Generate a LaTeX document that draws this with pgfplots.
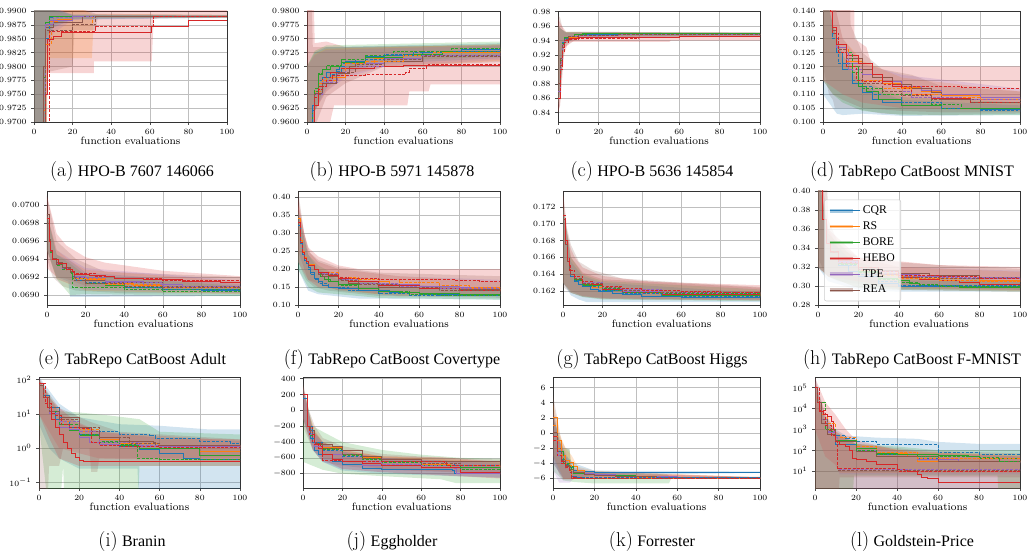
\documentclass[border=0pt]{standalone}
\usepackage{fontspec}
\newfontfamily\tnr{Liberation Serif}
\usepackage{pgfplots}
\pgfplotsset{compat=1.18}
\definecolor{cqr}{HTML}{1F77B4}
\definecolor{rs}{HTML}{FF7F0E}
\definecolor{bore}{HTML}{2CA02C}
\definecolor{hebo}{HTML}{D62728}
\definecolor{tpe}{HTML}{9467BD}
\definecolor{rea}{HTML}{8C564B}
\pgfplotsset{
 sub/.style={scale only axis, anchor=south west, xmin=0, xmax=100, xtick={0,20,40,60,80,100},
  grid=major, grid style={line width=0.4pt, black!25}, axis line style={line width=0.7pt, black!80},
  tick style={black!70, line width=0.4pt}, major tick length=2pt, tick align=outside,
  xtick pos=bottom, ytick pos=left, scaled y ticks=false, scaled x ticks=false,
  tick label style={font=\fontsize{6.3}{7}\selectfont},
  xlabel={function evaluations},
  xlabel style={font=\fontsize{8}{9}\selectfont, at={(axis description cs:0.5,0)}, anchor=center, yshift=-14pt}},
 yp/.style={yticklabel style={/pgf/number format/.cd, fixed, fixed zerofill, precision=#1}},
 S/.style={const plot, line width=0.6pt, color=#1},
 D/.style={const plot, line width=0.6pt, color=#1, dash pattern=on 2.2pt off 1.1pt},
 B/.style={fill=#1, fill opacity=0.2, draw=none},
}
\newcommand{\subcap}[2]{{\fontsize{15}{15}\selectfont #1}\ {\tnr\fontsize{12}{12}\selectfont #2}}
\begin{document}
\begin{tikzpicture}
\useasboundingbox (0,0) rectangle (770.25pt,-414pt);
%================ (a)
\begin{axis}[sub, at={(25.5pt,-91.5pt)}, width=144.75pt, height=83.25pt, ymin=0.97, ymax=0.99,
 ytick={0.97,0.9725,0.975,0.9775,0.98,0.9825,0.985,0.9875,0.99}, yp=4]
\addplot[B=hebo] coordinates {(0,0.991)(100,0.991)(100,0.9888)(66,0.9888)(62,0.9885)(61,0.9809)(31,0.9809)(31,0.9788)(7,0.9788)(6,0.95)(0,0.95)} -- cycle;
\addplot[B=rea] coordinates {(0,0.991)(20,0.991)(32,0.9895)(100,0.9893)(100,0.9888)(33,0.9888)(32,0.9865)(21,0.9865)(20,0.980)(7,0.979)(6,0.95)(0,0.95)} -- cycle;
\addplot[B=rs] coordinates {(0,0.991)(20,0.991)(30,0.9895)(100,0.9893)(100,0.9888)(31,0.9888)(30,0.9815)(7,0.9815)(6,0.95)(0,0.95)} -- cycle;
\addplot[B=cqr] coordinates {(0,0.991)(10,0.9905)(20,0.9893)(100,0.9892)(100,0.9888)(20,0.9885)(10,0.987)(6,0.984)(5,0.95)(0,0.95)} -- cycle;
\addplot[B=bore] coordinates {(0,0.991)(10,0.9902)(20,0.9893)(100,0.9892)(100,0.9888)(20,0.9886)(10,0.9875)(6,0.985)(5,0.95)(0,0.95)} -- cycle;
\addplot[B=tpe] coordinates {(0,0.991)(10,0.9905)(20,0.9894)(100,0.9892)(100,0.9888)(20,0.9884)(10,0.986)(6,0.982)(5,0.95)(0,0.95)} -- cycle;
\addplot[S=cqr] coordinates {(0,0.9)(4,0.95)(5,0.975)(6,0.9875)(8,0.9888)(10,0.989)(100,0.989)};
\addplot[S=rs] coordinates {(0,0.9)(4,0.95)(5,0.972)(6,0.985)(8,0.9882)(12,0.9885)(20,0.989)(100,0.989)};
\addplot[S=bore] coordinates {(0,0.9)(4,0.955)(5,0.978)(6,0.988)(8,0.989)(100,0.989)};
\addplot[S=tpe] coordinates {(0,0.9)(4,0.95)(5,0.975)(6,0.9875)(8,0.9883)(20,0.989)(100,0.989)};
\addplot[S=rea] coordinates {(0,0.9)(4,0.96)(5,0.98)(6,0.987)(10,0.988)(25,0.989)(100,0.989)};
\addplot[S=hebo] coordinates {(0,0.9)(5,0.95)(6,0.975)(7,0.9848)(10,0.9855)(14,0.9862)(61,0.9873)(80,0.9883)(100,0.9883)};
\addplot[D=cqr] coordinates {(0,0.9)(5,0.96)(6,0.985)(8,0.9888)(12,0.989)(100,0.989)};
\addplot[D=rs] coordinates {(0,0.9)(5,0.96)(6,0.984)(9,0.9865)(20,0.9875)(30,0.989)(100,0.989)};
\addplot[D=bore] coordinates {(0,0.9)(5,0.97)(6,0.988)(8,0.989)(100,0.989)};
\addplot[D=tpe] coordinates {(0,0.9)(5,0.97)(6,0.9875)(10,0.9888)(20,0.989)(100,0.989)};
\addplot[D=rea] coordinates {(0,0.9)(5,0.965)(6,0.9865)(20,0.9875)(32,0.989)(100,0.989)};
\addplot[D=hebo] coordinates {(0,0.9)(6,0.97)(8,0.9863)(32,0.9872)(62,0.989)(100,0.989)};
\end{axis}
%================ (b)
\begin{axis}[sub, at={(230.25pt,-91.5pt)}, width=144.75pt, height=83.25pt, ymin=0.96, ymax=0.98,
 ytick={0.96,0.9625,0.965,0.9675,0.97,0.9725,0.975,0.9775,0.98}, yp=4]
\addplot[B=rea] coordinates {(0,0.99)(2,0.99)(3,0.9735)(20,0.9735)(100,0.974)(100,0.9708)(40,0.970)(20,0.967)(10,0.9645)(5,0.960)(3,0.95)(0,0.95)} -- cycle;
\addplot[B=hebo] coordinates {(0,0.99)(3,0.99)(4,0.9742)(10,0.9745)(20,0.9735)(100,0.9738)(100,0.9668)(64,0.9668)(63,0.9655)(53,0.9655)(52,0.963)(14,0.963)(12,0.960)(8,0.958)(5,0.955)(0,0.95)} -- cycle;
\addplot[B=cqr] coordinates {(0,0.97)(4,0.9725)(10,0.9735)(100,0.9742)(100,0.9715)(40,0.9705)(20,0.969)(10,0.966)(4,0.962)(2,0.95)(0,0.95)} -- cycle;
\addplot[B=bore] coordinates {(0,0.97)(4,0.9728)(10,0.9738)(100,0.9745)(100,0.9718)(40,0.971)(20,0.9695)(10,0.967)(4,0.962)(2,0.95)(0,0.95)} -- cycle;
\addplot[B=rs] coordinates {(0,0.97)(4,0.9722)(10,0.9732)(100,0.974)(100,0.971)(40,0.970)(20,0.9685)(10,0.9655)(4,0.962)(2,0.95)(0,0.95)} -- cycle;
\addplot[B=tpe] coordinates {(0,0.97)(4,0.972)(10,0.973)(100,0.9738)(100,0.9712)(40,0.970)(20,0.968)(10,0.9655)(4,0.962)(2,0.95)(0,0.95)} -- cycle;
\addplot[S=cqr] coordinates {(0,0.95)(2,0.958)(3,0.963)(4,0.9655)(6,0.967)(8,0.968)(10,0.969)(15,0.9695)(17,0.970)(20,0.971)(30,0.9718)(40,0.972)(60,0.9725)(80,0.973)(100,0.9732)};
\addplot[S=rs] coordinates {(0,0.95)(3,0.962)(4,0.9655)(6,0.967)(10,0.968)(20,0.9705)(35,0.9715)(50,0.9722)(70,0.9726)(100,0.9728)};
\addplot[S=bore] coordinates {(0,0.95)(3,0.962)(4,0.9655)(6,0.9685)(8,0.9695)(12,0.970)(18,0.9708)(30,0.9717)(50,0.9722)(70,0.9728)(100,0.9733)};
\addplot[S=tpe] coordinates {(0,0.95)(4,0.965)(8,0.9675)(15,0.969)(20,0.9705)(40,0.9715)(60,0.972)(100,0.9727)};
\addplot[S=rea] coordinates {(0,0.95)(2,0.958)(4,0.965)(8,0.967)(15,0.9688)(22,0.970)(40,0.971)(60,0.972)(100,0.9722)};
\addplot[S=hebo] coordinates {(0,0.95)(3,0.960)(4,0.963)(6,0.9665)(8,0.968)(12,0.969)(18,0.9697)(35,0.970)(50,0.9702)(100,0.9705)};
\addplot[D=cqr] coordinates {(0,0.95)(3,0.962)(4,0.9655)(6,0.9675)(8,0.968)(12,0.9685)(16,0.9692)(18,0.9705)(25,0.9712)(40,0.9722)(55,0.9725)(70,0.9728)(100,0.973)};
\addplot[D=rs] coordinates {(0,0.95)(4,0.9655)(8,0.9675)(15,0.969)(20,0.9705)(30,0.971)(50,0.972)(65,0.9725)(100,0.9732)};
\addplot[D=bore] coordinates {(0,0.95)(4,0.966)(6,0.9688)(8,0.9695)(10,0.9702)(18,0.9712)(30,0.972)(45,0.9727)(60,0.9728)(75,0.9732)(100,0.9735)};
\addplot[D=tpe] coordinates {(0,0.95)(4,0.965)(8,0.9672)(16,0.969)(25,0.970)(40,0.9712)(60,0.972)(100,0.9725)};
\addplot[D=rea] coordinates {(0,0.95)(4,0.9652)(8,0.967)(15,0.969)(25,0.9703)(40,0.9713)(60,0.9718)(100,0.9723)};
\addplot[D=hebo] coordinates {(0,0.95)(4,0.9645)(6,0.9658)(8,0.9665)(10,0.9675)(13,0.9684)(30,0.9685)(51,0.969)(53,0.9697)(62,0.9703)(100,0.9703)};
\end{axis}
%================ (c)
\begin{axis}[sub, at={(418.5pt,-91.5pt)}, width=151.5pt, height=83.25pt, ymin=0.827, ymax=0.981,
 ytick={0.84,0.86,0.88,0.90,0.92,0.94,0.96,0.98}, yp=2]
\addplot[B=rea] coordinates {(0,0.975)(1,0.972)(2,0.96)(3,0.952)(100,0.9515)(100,0.946)(10,0.943)(3,0.938)(2,0.90)(1,0.85)(0,0.84)} -- cycle;
\addplot[B=hebo] coordinates {(0,0.97)(2,0.96)(4,0.952)(100,0.951)(100,0.940)(56,0.940)(55,0.938)(5,0.938)(3,0.92)(1,0.85)(0,0.84)} -- cycle;
\addplot[B=cqr] coordinates {(0,0.96)(2,0.955)(4,0.951)(100,0.9505)(100,0.947)(10,0.945)(3,0.935)(1,0.87)(0,0.85)} -- cycle;
\addplot[B=bore] coordinates {(0,0.96)(2,0.955)(4,0.952)(28,0.952)(100,0.9505)(100,0.947)(10,0.946)(3,0.935)(1,0.87)(0,0.85)} -- cycle;
\addplot[B=rs] coordinates {(0,0.96)(2,0.955)(4,0.951)(100,0.9505)(100,0.946)(10,0.944)(3,0.93)(1,0.87)(0,0.85)} -- cycle;
\addplot[B=tpe] coordinates {(0,0.96)(2,0.955)(4,0.951)(100,0.9505)(100,0.946)(10,0.944)(3,0.93)(1,0.87)(0,0.85)} -- cycle;
\addplot[S=cqr] coordinates {(0,0.88)(1,0.915)(2,0.937)(3,0.943)(5,0.946)(10,0.948)(30,0.949)(100,0.9495)};
\addplot[S=rs] coordinates {(0,0.87)(1,0.91)(2,0.935)(3,0.942)(5,0.945)(10,0.947)(30,0.9485)(100,0.949)};
\addplot[S=bore] coordinates {(0,0.87)(1,0.912)(2,0.936)(3,0.944)(5,0.946)(8,0.948)(12,0.9497)(17,0.9505)(28,0.9495)(100,0.9495)};
\addplot[S=tpe] coordinates {(0,0.87)(1,0.91)(2,0.935)(3,0.942)(5,0.9455)(10,0.947)(30,0.9485)(100,0.949)};
\addplot[S=rea] coordinates {(0,0.88)(1,0.915)(2,0.935)(3,0.943)(5,0.946)(10,0.9475)(30,0.949)(100,0.9492)};
\addplot[S=hebo] coordinates {(0,0.86)(1,0.905)(2,0.93)(3,0.94)(5,0.943)(10,0.9445)(60,0.9455)(100,0.946)};
\addplot[D=cqr] coordinates {(0,0.87)(1,0.912)(2,0.936)(3,0.943)(5,0.946)(10,0.9478)(30,0.9488)(100,0.9492)};
\addplot[D=rs] coordinates {(0,0.87)(1,0.91)(2,0.934)(3,0.941)(5,0.945)(10,0.947)(30,0.9485)(100,0.9488)};
\addplot[D=bore] coordinates {(0,0.87)(1,0.912)(2,0.936)(3,0.944)(5,0.946)(8,0.948)(14,0.9495)(30,0.9495)(100,0.9495)};
\addplot[D=tpe] coordinates {(0,0.87)(1,0.91)(2,0.935)(3,0.942)(5,0.9452)(10,0.9468)(30,0.9482)(100,0.9488)};
\addplot[D=rea] coordinates {(0,0.88)(1,0.913)(2,0.934)(3,0.942)(5,0.9455)(10,0.9472)(30,0.9487)(100,0.949)};
\addplot[D=hebo] coordinates {(0,0.86)(1,0.90)(2,0.925)(3,0.938)(5,0.942)(10,0.9435)(40,0.9445)(60,0.9458)(100,0.9462)};
\end{axis}
%================ (d)
\begin{axis}[sub, at={(617.25pt,-91.5pt)}, width=147.75pt, height=83.25pt, ymin=0.1, ymax=0.14,
 ytick={0.1,0.105,0.11,0.115,0.12,0.125,0.13,0.135,0.14}, yp=3]
\addplot[B=hebo] coordinates {(0,0.2)(15,0.2)(16,0.13)(22,0.127)(25,0.12)(100,0.12)(100,0.1035)(60,0.1035)(40,0.104)(20,0.105)(10,0.108)(5,0.11)(0,0.115)} -- cycle;
\addplot[B=rea] coordinates {(0,0.2)(12,0.2)(14,0.135)(20,0.125)(30,0.119)(45,0.117)(60,0.113)(100,0.111)(100,0.103)(60,0.1025)(30,0.103)(15,0.105)(6,0.105)(5,0.108)(3,0.11)(0,0.12)} -- cycle;
\addplot[B=cqr] coordinates {(0,0.15)(5,0.135)(10,0.122)(20,0.113)(40,0.108)(100,0.106)(100,0.1025)(40,0.1022)(20,0.103)(10,0.1025)(7,0.103)(5,0.105)(0,0.11)} -- cycle;
\addplot[B=bore] coordinates {(0,0.15)(5,0.135)(10,0.124)(20,0.115)(40,0.109)(100,0.107)(100,0.1025)(40,0.1025)(20,0.104)(10,0.107)(5,0.11)(0,0.115)} -- cycle;
\addplot[B=rs] coordinates {(0,0.16)(10,0.13)(20,0.122)(40,0.116)(100,0.111)(100,0.104)(40,0.105)(20,0.107)(10,0.11)(0,0.115)} -- cycle;
\addplot[B=tpe] coordinates {(0,0.16)(10,0.13)(20,0.121)(40,0.117)(100,0.112)(100,0.104)(40,0.105)(20,0.107)(10,0.11)(0,0.115)} -- cycle;
\addplot[S=cqr] coordinates {(0,0.19)(2,0.16)(4,0.14)(5,0.132)(7,0.125)(10,0.119)(15,0.114)(20,0.1105)(25,0.108)(30,0.107)(40,0.106)(60,0.105)(80,0.1047)(100,0.1045)};
\addplot[S=rs] coordinates {(0,0.19)(2,0.16)(4,0.14)(5,0.133)(7,0.128)(12,0.122)(20,0.117)(30,0.114)(40,0.1125)(50,0.111)(60,0.1095)(80,0.108)(100,0.1075)};
\addplot[S=bore] coordinates {(0,0.19)(2,0.16)(4,0.14)(5,0.133)(7,0.127)(12,0.12)(18,0.113)(22,0.111)(28,0.108)(40,0.106)(60,0.105)(100,0.1045)};
\addplot[S=tpe] coordinates {(0,0.19)(2,0.16)(4,0.14)(5,0.133)(7,0.127)(12,0.121)(20,0.117)(30,0.1145)(40,0.113)(50,0.1115)(60,0.110)(80,0.109)(100,0.1083)};
\addplot[S=rea] coordinates {(0,0.19)(2,0.16)(4,0.14)(5,0.133)(7,0.128)(12,0.123)(20,0.119)(25,0.116)(35,0.1135)(45,0.112)(55,0.1105)(60,0.108)(80,0.107)(100,0.1065)};
\addplot[S=hebo] coordinates {(0,0.19)(2,0.16)(4,0.14)(5,0.134)(7,0.128)(12,0.124)(18,0.121)(25,0.117)(30,0.1145)(35,0.113)(40,0.112)(45,0.110)(55,0.1085)(75,0.107)(100,0.106)};
\addplot[D=cqr] coordinates {(0,0.19)(2,0.16)(4,0.14)(5,0.13)(8,0.121)(15,0.115)(20,0.113)(25,0.110)(40,0.107)(60,0.105)(80,0.104)(100,0.1038)};
\addplot[D=rs] coordinates {(0,0.19)(2,0.16)(4,0.14)(5,0.132)(8,0.126)(13,0.12)(20,0.115)(30,0.112)(45,0.110)(60,0.109)(80,0.108)(100,0.107)};
\addplot[D=bore] coordinates {(0,0.19)(2,0.16)(4,0.14)(5,0.132)(8,0.125)(15,0.118)(20,0.112)(30,0.110)(45,0.109)(55,0.1065)(70,0.105)(100,0.1042)};
\addplot[D=tpe] coordinates {(0,0.19)(2,0.16)(4,0.14)(5,0.132)(8,0.125)(13,0.119)(20,0.114)(30,0.111)(45,0.109)(70,0.108)(100,0.107)};
\addplot[D=rea] coordinates {(0,0.19)(2,0.16)(4,0.14)(5,0.132)(8,0.126)(12,0.12)(20,0.114)(30,0.111)(40,0.1095)(55,0.108)(75,0.107)(100,0.1065)};
\addplot[D=hebo] coordinates {(0,0.19)(2,0.16)(4,0.14)(5,0.132)(8,0.125)(12,0.12)(17,0.115)(20,0.1145)(30,0.1135)(40,0.113)(70,0.1125)(85,0.112)(100,0.112)};
\end{axis}
%================ (e)
\begin{axis}[sub, at={(35.25pt,-228.75pt)}, width=144.75pt, height=85.5pt, ymin=0.06889, ymax=0.070155,
 ytick={0.069,0.0692,0.0694,0.0696,0.0698,0.07}, yp=4]
\addplot[B=hebo] coordinates {(0,0.0701)(5,0.06968)(10,0.06955)(20,0.06942)(30,0.06936)(60,0.06927)(100,0.06921)(100,0.06905)(50,0.06907)(20,0.0691)(10,0.06918)(5,0.0692)(0,0.0693)} -- cycle;
\addplot[B=rea] coordinates {(0,0.0701)(5,0.0696)(10,0.0695)(15,0.0694)(30,0.06926)(100,0.0692)(100,0.06902)(40,0.06902)(15,0.06905)(8,0.0691)(3,0.0692)(0,0.0694)} -- cycle;
\addplot[B=cqr] coordinates {(0,0.0699)(5,0.06945)(12,0.06938)(20,0.06925)(100,0.06912)(100,0.06899)(20,0.06898)(12,0.06898)(11,0.06915)(5,0.0692)(0,0.0695)} -- cycle;
\addplot[B=bore] coordinates {(0,0.0699)(5,0.06945)(12,0.06935)(20,0.06922)(100,0.0691)(100,0.06899)(20,0.06901)(12,0.069)(5,0.06918)(0,0.0695)} -- cycle;
\addplot[B=rs] coordinates {(0,0.0699)(5,0.0695)(12,0.06938)(20,0.06928)(100,0.06915)(100,0.06901)(20,0.06905)(5,0.06918)(0,0.0695)} -- cycle;
\addplot[B=tpe] coordinates {(0,0.0699)(5,0.0695)(12,0.0694)(20,0.0693)(100,0.06916)(100,0.06902)(20,0.06906)(5,0.06918)(0,0.0695)} -- cycle;
\addplot[S=cqr] coordinates {(0,0.0698)(1,0.0696)(2,0.06948)(3,0.0694)(5,0.06935)(8,0.0693)(12,0.06925)(13,0.06921)(15,0.06916)(20,0.06913)(30,0.06911)(40,0.06909)(60,0.06906)(80,0.06905)(100,0.06904)};
\addplot[S=rs] coordinates {(0,0.0699)(1,0.0696)(2,0.0695)(3,0.0694)(5,0.06935)(8,0.0693)(12,0.06926)(14,0.06921)(20,0.06917)(30,0.06913)(45,0.06911)(60,0.06909)(80,0.06908)(100,0.06907)};
\addplot[S=bore] coordinates {(0,0.0698)(1,0.0696)(2,0.06948)(3,0.0694)(5,0.06934)(8,0.0693)(12,0.06925)(13,0.06918)(20,0.06913)(30,0.06911)(40,0.06909)(60,0.06906)(100,0.06904)};
\addplot[S=tpe] coordinates {(0,0.0699)(1,0.0696)(2,0.0695)(3,0.0694)(5,0.06935)(8,0.0693)(12,0.06926)(14,0.06921)(20,0.06918)(30,0.06915)(50,0.06912)(70,0.0691)(100,0.06909)};
\addplot[S=rea] coordinates {(0,0.0699)(1,0.06962)(2,0.0695)(3,0.06941)(5,0.06936)(8,0.06931)(12,0.06926)(14,0.0692)(20,0.06916)(30,0.06914)(60,0.0691)(100,0.06909)};
\addplot[S=hebo] coordinates {(0,0.06985)(1,0.0696)(2,0.0695)(3,0.0694)(6,0.06935)(10,0.06928)(13,0.06925)(14,0.06923)(22,0.06922)(30,0.06921)(35,0.06918)(50,0.06917)(70,0.06915)(90,0.06914)(100,0.06913)};
\addplot[D=cqr] coordinates {(0,0.0698)(1,0.0696)(2,0.06948)(3,0.0694)(5,0.06934)(8,0.0693)(12,0.06925)(13,0.06918)(20,0.06914)(40,0.06908)(60,0.06906)(100,0.06904)};
\addplot[D=rs] coordinates {(0,0.0698)(1,0.0696)(2,0.06948)(3,0.0694)(5,0.06934)(8,0.0693)(12,0.06925)(14,0.06919)(30,0.06912)(60,0.06909)(100,0.06907)};
\addplot[D=bore] coordinates {(0,0.0698)(1,0.0696)(2,0.06947)(3,0.0694)(5,0.06933)(8,0.06928)(12,0.06924)(13,0.06909)(20,0.06908)(40,0.06906)(60,0.06904)(100,0.06903)};
\addplot[D=tpe] coordinates {(0,0.0698)(1,0.0696)(2,0.06948)(3,0.0694)(5,0.06934)(8,0.0693)(12,0.06925)(14,0.0692)(30,0.06914)(60,0.0691)(100,0.06908)};
\addplot[D=rea] coordinates {(0,0.0698)(1,0.0696)(2,0.06948)(3,0.0694)(5,0.06934)(8,0.0693)(12,0.06925)(14,0.06916)(20,0.06913)(40,0.0691)(60,0.06908)(100,0.06906)};
\addplot[D=hebo] coordinates {(0,0.06985)(1,0.0696)(2,0.0695)(3,0.0694)(6,0.06935)(10,0.06928)(13,0.06926)(14,0.06924)(25,0.06921)(35,0.06919)(60,0.06916)(100,0.06912)};
\end{axis}
%================ (f)
\begin{axis}[sub, at={(223.5pt,-228.75pt)}, width=151.5pt, height=85.5pt, ymin=0.1, ymax=0.417,
 ytick={0.1,0.15,0.2,0.25,0.3,0.35,0.4}, yp=2]
\addplot[B=hebo] coordinates {(0,0.40)(3,0.3)(5,0.26)(10,0.235)(20,0.21)(30,0.2)(100,0.2)(100,0.125)(50,0.125)(20,0.14)(10,0.16)(5,0.17)(0,0.25)} -- cycle;
\addplot[B=rea] coordinates {(0,0.42)(3,0.3)(6,0.245)(10,0.225)(20,0.205)(40,0.19)(100,0.18)(100,0.12)(40,0.125)(15,0.14)(8,0.15)(4,0.17)(0,0.22)} -- cycle;
\addplot[B=cqr] coordinates {(0,0.36)(5,0.24)(10,0.2)(20,0.17)(100,0.14)(100,0.115)(30,0.118)(10,0.13)(5,0.14)(0,0.2)} -- cycle;
\addplot[B=bore] coordinates {(0,0.36)(5,0.24)(10,0.21)(20,0.18)(50,0.15)(100,0.14)(100,0.115)(40,0.12)(10,0.135)(5,0.15)(0,0.2)} -- cycle;
\addplot[B=rs] coordinates {(0,0.38)(5,0.25)(10,0.22)(20,0.2)(50,0.18)(100,0.165)(100,0.125)(40,0.13)(10,0.15)(5,0.17)(0,0.22)} -- cycle;
\addplot[B=tpe] coordinates {(0,0.38)(5,0.25)(10,0.22)(20,0.2)(50,0.18)(100,0.17)(100,0.128)(40,0.132)(10,0.15)(5,0.17)(0,0.22)} -- cycle;
\addplot[S=cqr] coordinates {(0,0.32)(1,0.27)(2,0.24)(3,0.225)(4,0.215)(5,0.205)(6,0.19)(8,0.175)(10,0.165)(12,0.155)(15,0.15)(20,0.145)(30,0.14)(45,0.135)(60,0.13)(80,0.128)(100,0.127)};
\addplot[S=rs] coordinates {(0,0.34)(1,0.28)(2,0.25)(3,0.232)(4,0.222)(5,0.212)(8,0.2)(10,0.192)(15,0.182)(20,0.175)(30,0.165)(45,0.157)(60,0.152)(80,0.147)(100,0.143)};
\addplot[S=bore] coordinates {(0,0.33)(1,0.275)(2,0.245)(3,0.23)(4,0.22)(5,0.21)(8,0.2)(10,0.19)(11,0.18)(13,0.172)(16,0.165)(20,0.157)(30,0.146)(40,0.139)(50,0.134)(60,0.131)(80,0.129)(100,0.128)};
\addplot[S=tpe] coordinates {(0,0.33)(1,0.275)(2,0.245)(3,0.23)(4,0.22)(5,0.21)(8,0.2)(10,0.19)(12,0.185)(20,0.172)(25,0.165)(40,0.157)(60,0.151)(80,0.149)(100,0.148)};
\addplot[S=rea] coordinates {(0,0.33)(1,0.275)(2,0.245)(3,0.23)(4,0.22)(5,0.21)(8,0.198)(10,0.188)(12,0.18)(20,0.17)(25,0.16)(40,0.15)(60,0.145)(80,0.142)(100,0.14)};
\addplot[S=hebo] coordinates {(0,0.33)(1,0.275)(2,0.245)(3,0.23)(4,0.22)(5,0.21)(8,0.2)(10,0.192)(15,0.182)(20,0.175)(25,0.165)(40,0.155)(60,0.146)(80,0.14)(100,0.136)};
\addplot[D=cqr] coordinates {(0,0.32)(1,0.27)(2,0.24)(3,0.225)(4,0.215)(5,0.2)(6,0.185)(8,0.172)(10,0.16)(15,0.15)(25,0.14)(40,0.133)(55,0.128)(70,0.126)(100,0.125)};
\addplot[D=rs] coordinates {(0,0.33)(1,0.275)(2,0.245)(3,0.23)(4,0.22)(5,0.21)(8,0.2)(10,0.19)(20,0.178)(30,0.17)(50,0.162)(70,0.155)(85,0.15)(100,0.14)};
\addplot[D=bore] coordinates {(0,0.33)(1,0.275)(2,0.245)(3,0.23)(4,0.22)(5,0.21)(8,0.198)(10,0.185)(15,0.165)(20,0.155)(30,0.145)(40,0.137)(55,0.13)(70,0.127)(100,0.124)};
\addplot[D=tpe] coordinates {(0,0.33)(1,0.275)(2,0.245)(3,0.23)(4,0.22)(5,0.21)(8,0.2)(10,0.188)(20,0.17)(30,0.16)(50,0.152)(70,0.146)(100,0.142)};
\addplot[D=rea] coordinates {(0,0.33)(1,0.275)(2,0.245)(3,0.23)(4,0.22)(5,0.21)(8,0.198)(10,0.186)(20,0.168)(30,0.158)(50,0.148)(70,0.14)(100,0.136)};
\addplot[D=hebo] coordinates {(0,0.33)(1,0.275)(2,0.245)(3,0.23)(4,0.22)(5,0.21)(8,0.2)(10,0.19)(15,0.183)(20,0.178)(25,0.175)(40,0.17)(60,0.17)(78,0.168)(90,0.166)(100,0.165)};
\end{axis}
%================ (g)
\begin{axis}[sub, at={(422.25pt,-228.75pt)}, width=147.75pt, height=85.5pt, ymin=0.16035, ymax=0.17388,
 ytick={0.162,0.164,0.166,0.168,0.17,0.172}, yp=3]
\addplot[B=hebo] coordinates {(0,0.1735)(2,0.169)(4,0.167)(6,0.166)(10,0.1648)(20,0.1638)(40,0.1632)(60,0.163)(100,0.1627)(100,0.161)(40,0.1611)(20,0.1612)(10,0.1614)(4,0.162)(0,0.163)} -- cycle;
\addplot[B=rea] coordinates {(0,0.174)(2,0.1695)(4,0.1675)(8,0.1655)(15,0.1645)(30,0.1635)(60,0.163)(100,0.1625)(100,0.1609)(40,0.161)(20,0.1611)(10,0.1613)(4,0.1618)(0,0.1625)} -- cycle;
\addplot[B=cqr] coordinates {(0,0.172)(4,0.1655)(10,0.1638)(20,0.163)(100,0.1618)(100,0.1607)(20,0.1607)(12,0.1607)(8,0.161)(4,0.1615)(0,0.163)} -- cycle;
\addplot[B=bore] coordinates {(0,0.172)(4,0.166)(10,0.164)(20,0.1632)(100,0.1622)(100,0.1608)(20,0.161)(10,0.1613)(4,0.1618)(0,0.163)} -- cycle;
\addplot[B=rs] coordinates {(0,0.172)(4,0.166)(10,0.1642)(20,0.1634)(100,0.1624)(100,0.1609)(20,0.1611)(10,0.1614)(4,0.1618)(0,0.163)} -- cycle;
\addplot[B=tpe] coordinates {(0,0.172)(4,0.166)(10,0.1642)(20,0.1634)(100,0.1624)(100,0.1609)(20,0.1611)(10,0.1614)(4,0.1618)(0,0.163)} -- cycle;
\addplot[S=cqr] coordinates {(0,0.1705)(1,0.1675)(2,0.1655)(3,0.1645)(4,0.1638)(6,0.1632)(8,0.1628)(10,0.1625)(14,0.1622)(18,0.162)(25,0.1617)(30,0.1616)(40,0.1614)(60,0.1613)(100,0.1612)};
\addplot[S=rs] coordinates {(0,0.1705)(1,0.1675)(2,0.1655)(3,0.1645)(4,0.164)(6,0.1634)(10,0.1628)(15,0.1624)(20,0.1622)(30,0.1619)(45,0.1617)(60,0.1616)(100,0.1614)};
\addplot[S=bore] coordinates {(0,0.1705)(1,0.1675)(2,0.1655)(3,0.1645)(4,0.164)(6,0.1633)(10,0.1627)(20,0.1621)(30,0.1618)(50,0.1615)(100,0.1613)};
\addplot[S=tpe] coordinates {(0,0.1705)(1,0.1675)(2,0.1655)(3,0.1645)(4,0.164)(6,0.1634)(10,0.1628)(20,0.1623)(30,0.162)(50,0.1617)(100,0.1615)};
\addplot[S=rea] coordinates {(0,0.1705)(1,0.1675)(2,0.1655)(3,0.1645)(4,0.164)(6,0.1634)(10,0.1628)(20,0.1622)(30,0.1619)(50,0.1616)(100,0.1614)};
\addplot[S=hebo] coordinates {(0,0.1705)(1,0.1675)(2,0.1655)(3,0.1645)(4,0.164)(6,0.1634)(10,0.1628)(20,0.1622)(30,0.1619)(50,0.1616)(100,0.1613)};
\addplot[D=cqr] coordinates {(0,0.1705)(1,0.1675)(2,0.1655)(3,0.1645)(4,0.164)(6,0.1633)(10,0.1626)(18,0.1621)(30,0.1617)(50,0.1614)(100,0.1613)};
\addplot[D=rs] coordinates {(0,0.1705)(1,0.1675)(2,0.1655)(3,0.1645)(4,0.164)(6,0.1635)(10,0.1629)(20,0.1624)(30,0.1621)(50,0.1618)(100,0.1616)};
\addplot[D=bore] coordinates {(0,0.1705)(1,0.1675)(2,0.1655)(3,0.1645)(4,0.164)(6,0.1634)(10,0.1628)(20,0.1623)(30,0.1619)(50,0.1617)(100,0.1615)};
\addplot[D=tpe] coordinates {(0,0.1705)(1,0.1675)(2,0.1655)(3,0.1645)(4,0.164)(6,0.1635)(10,0.163)(20,0.1625)(30,0.1622)(50,0.1619)(100,0.1617)};
\addplot[D=rea] coordinates {(0,0.1705)(1,0.1675)(2,0.1655)(3,0.1645)(4,0.164)(6,0.1635)(10,0.1629)(20,0.1624)(30,0.1621)(50,0.1618)(100,0.1616)};
\addplot[D=hebo] coordinates {(0,0.171)(1,0.168)(2,0.166)(3,0.165)(4,0.1645)(6,0.1638)(10,0.1632)(15,0.1628)(20,0.1625)(30,0.1623)(40,0.1621)(60,0.162)(80,0.1619)(100,0.1619)};
\end{axis}
%================ (h)
\begin{axis}[sub, at={(613.5pt,-228.75pt)}, width=151.5pt, height=85.5pt, ymin=0.28, ymax=0.40,
 ytick={0.28,0.3,0.32,0.34,0.36,0.38,0.4}, yp=2,
 legend style={at={(0.03,0.925)}, anchor=north west, font=\tnr\fontsize{8.8}{10}\selectfont, fill=white, fill opacity=0.8, text opacity=1, draw opacity=1, draw=black!20, rounded corners=1.5pt, row sep=0.6pt, inner sep=2.5pt},
 legend cell align=left,
 legend image code/.code={\draw[line width=2.8pt, opacity=0.4, #1] (0cm,0cm) -- (0.62cm,0cm); \draw[line width=0.7pt, #1] (0cm,0cm) -- (0.62cm,0cm); \path (0.62cm,0cm) -- (0.8cm,0cm);}]
\addlegendimage{cqr}\addlegendentry{CQR}
\addlegendimage{rs}\addlegendentry{RS}
\addlegendimage{bore}\addlegendentry{BORE}
\addlegendimage{hebo}\addlegendentry{HEBO}
\addlegendimage{tpe}\addlegendentry{TPE}
\addlegendimage{rea}\addlegendentry{REA}
\addplot[B=hebo] coordinates {(0,0.45)(5,0.36)(10,0.34)(20,0.33)(40,0.326)(60,0.322)(100,0.32)(100,0.294)(40,0.296)(20,0.298)(5,0.31)(0,0.32)} -- cycle;
\addplot[B=rea] coordinates {(0,0.45)(4,0.45)(5,0.37)(10,0.345)(20,0.33)(40,0.325)(60,0.322)(100,0.318)(100,0.296)(40,0.297)(10,0.305)(5,0.31)(3,0.315)(0,0.33)} -- cycle;
\addplot[B=cqr] coordinates {(0,0.42)(5,0.35)(20,0.32)(40,0.306)(100,0.305)(100,0.294)(40,0.294)(20,0.296)(5,0.305)(0,0.32)} -- cycle;
\addplot[B=bore] coordinates {(0,0.42)(5,0.355)(20,0.325)(40,0.312)(100,0.305)(100,0.294)(40,0.296)(20,0.298)(5,0.31)(0,0.32)} -- cycle;
\addplot[B=rs] coordinates {(0,0.42)(5,0.36)(20,0.33)(40,0.32)(100,0.315)(100,0.295)(40,0.298)(5,0.31)(0,0.32)} -- cycle;
\addplot[B=tpe] coordinates {(0,0.42)(5,0.36)(20,0.33)(40,0.32)(100,0.316)(100,0.296)(40,0.299)(5,0.31)(0,0.32)} -- cycle;
\addplot[S=cqr] coordinates {(0,0.41)(2,0.37)(4,0.345)(6,0.335)(10,0.322)(15,0.315)(20,0.31)(30,0.303)(40,0.2992)(100,0.2992)};
\addplot[S=rs] coordinates {(0,0.41)(2,0.37)(4,0.345)(6,0.335)(10,0.325)(20,0.318)(30,0.313)(40,0.31)(60,0.308)(80,0.306)(100,0.304)};
\addplot[S=bore] coordinates {(0,0.41)(2,0.37)(4,0.345)(6,0.335)(10,0.324)(20,0.315)(30,0.308)(40,0.3055)(45,0.303)(50,0.301)(70,0.299)(100,0.2985)};
\addplot[S=tpe] coordinates {(0,0.41)(2,0.37)(4,0.345)(6,0.335)(10,0.326)(20,0.32)(30,0.315)(40,0.312)(50,0.31)(70,0.308)(100,0.307)};
\addplot[S=rea] coordinates {(0,0.41)(2,0.37)(4,0.345)(6,0.336)(10,0.327)(20,0.32)(30,0.316)(40,0.3135)(55,0.311)(80,0.309)(100,0.3075)};
\addplot[S=hebo] coordinates {(0,0.41)(2,0.37)(4,0.345)(6,0.335)(10,0.325)(20,0.317)(30,0.312)(40,0.309)(50,0.307)(60,0.306)(70,0.304)(80,0.302)(100,0.301)};
\addplot[D=cqr] coordinates {(0,0.41)(2,0.37)(4,0.345)(6,0.335)(10,0.322)(20,0.312)(30,0.305)(40,0.3005)(100,0.3005)};
\addplot[D=rs] coordinates {(0,0.41)(2,0.37)(4,0.345)(6,0.335)(10,0.324)(20,0.316)(30,0.311)(40,0.308)(60,0.306)(80,0.305)(100,0.3035)};
\addplot[D=bore] coordinates {(0,0.41)(2,0.37)(4,0.345)(6,0.335)(10,0.323)(20,0.314)(30,0.307)(40,0.3035)(50,0.302)(60,0.3)(100,0.2995)};
\addplot[D=tpe] coordinates {(0,0.41)(2,0.37)(4,0.345)(6,0.335)(10,0.325)(20,0.318)(30,0.313)(40,0.3105)(60,0.309)(100,0.3055)};
\addplot[D=rea] coordinates {(0,0.41)(2,0.37)(4,0.345)(6,0.335)(10,0.324)(20,0.317)(30,0.312)(40,0.3095)(60,0.308)(100,0.306)};
\addplot[D=hebo] coordinates {(0,0.41)(2,0.37)(4,0.345)(6,0.336)(10,0.327)(20,0.32)(30,0.315)(40,0.3115)(60,0.3105)(80,0.3085)(100,0.3065)};
\end{axis}
%================ (i)
\begin{axis}[sub, ymode=log, yminorticks=false, at={(29.25pt,-366pt)}, width=150.75pt, height=83.25pt, ymin=0.068, ymax=120,
 ytick={0.1,1,10,100}]
\addplot[B=cqr] coordinates {(0,120)(10,20)(20,8)(40,5)(60,4.5)(85,3.5)(100,3.5)(100,0.01)(50,0.01)(49,0.25)(20,0.25)(10,0.5)(5,1)(0,5)} -- cycle;
\addplot[B=bore] coordinates {(0,100)(10,12)(20,11)(35,9)(50,7)(60,3)(100,2.5)(100,0.3)(50,0.3)(49,0.01)(13,0.01)(12,0.3)(10,0.01)(5,0.01)(0,5)} -- cycle;
\addplot[B=rea] coordinates {(0,100)(10,15)(25,6)(40,3)(100,1.8)(100,0.5)(30,0.5)(29,0.2)(26,0.2)(25,1.0)(12,1.0)(10,0.3)(5,0.3)(4,0.01)(0,0.01)} -- cycle;
\addplot[B=hebo] coordinates {(0,120)(5,30)(10,15)(20,5)(30,3)(60,2)(100,1.8)(100,0.3)(20,0.3)(10,0.5)(5,2)(0,10)} -- cycle;
\addplot[B=rs] coordinates {(0,100)(10,10)(30,3)(100,1.6)(100,0.4)(30,0.5)(10,1)(0,10)} -- cycle;
\addplot[B=tpe] coordinates {(0,100)(10,10)(30,3)(100,1.6)(100,0.4)(30,0.5)(10,1)(0,10)} -- cycle;
\addplot[S=cqr] coordinates {(0,70)(2,30)(5,12)(8,7)(10,5)(15,3.5)(20,2.5)(30,1.5)(40,1.1)(50,0.9)(60,0.7)(72,0.5)(80,0.48)(100,0.45)};
\addplot[S=rs] coordinates {(0,70)(2,30)(5,12)(10,6)(15,4)(20,3)(30,1.8)(40,1.4)(60,1.1)(80,0.8)(100,0.75)};
\addplot[S=bore] coordinates {(0,70)(2,30)(5,12)(10,5)(15,3.2)(20,2.3)(30,1.5)(40,1.2)(50,1.0)(70,0.95)(80,0.6)(100,0.58)};
\addplot[S=tpe] coordinates {(0,70)(2,30)(5,10)(10,4)(15,3.5)(20,2)(25,1.5)(30,1.3)(50,1.1)(100,0.9)};
\addplot[S=rea] coordinates {(0,70)(2,35)(5,15)(10,8)(20,4)(26,3)(30,2)(40,1.6)(57,1.5)(58,1.2)(70,1.2)(100,1.1)};
\addplot[S=hebo] coordinates {(0,80)(2,30)(4,15)(6,7)(8,4)(10,2.5)(12,1.5)(14,1)(16,0.7)(18,0.55)(20,0.45)(22,0.42)(100,0.4)};
\addplot[D=cqr] coordinates {(0,70)(2,35)(5,15)(10,8)(11,6)(15,4)(25,3)(40,2.6)(55,2.3)(58,1.9)(80,1.6)(95,1.4)(100,1.4)};
\addplot[D=rs] coordinates {(0,70)(2,30)(5,12)(10,7)(20,3.5)(30,2)(45,1.4)(60,1.2)(100,1.0)};
\addplot[D=bore] coordinates {(0,70)(2,30)(5,12)(10,5)(20,2.5)(30,1.6)(40,1.3)(48,1.1)(49,0.5)(60,0.48)(100,0.45)};
\addplot[D=tpe] coordinates {(0,70)(2,30)(5,12)(10,6)(20,3)(30,1.5)(50,1.2)(100,1.0)};
\addplot[D=rea] coordinates {(0,70)(2,30)(5,12)(10,7)(20,4)(30,2)(45,1.4)(60,1.2)(100,1.0)};
\addplot[D=hebo] coordinates {(0,80)(3,20)(6,10)(8,9)(11,5)(15,4)(20,3.8)(26,1.5)(30,1.2)(40,1.1)(60,1.05)(100,1.0)};
\end{axis}
%================ (j)
\begin{axis}[sub, at={(227.25pt,-366pt)}, width=147.75pt, height=83.25pt, ymin=-980, ymax=420,
 ytick={-800,-600,-400,-200,0,200,400}]
\addplot[B=bore] coordinates {(0,300)(5,-200)(10,-270)(20,-400)(30,-450)(40,-500)(60,-560)(80,-600)(100,-610)(100,-920)(78,-920)(70,-870)(40,-830)(20,-800)(10,-750)(5,-700)(0,-650)} -- cycle;
\addplot[B=rea] coordinates {(0,350)(3,0)(6,-200)(10,-350)(20,-450)(40,-550)(70,-600)(100,-620)(100,-800)(40,-750)(20,-700)(10,-650)(5,-500)(0,-200)} -- cycle;
\addplot[B=rs] coordinates {(0,300)(3,-50)(6,-250)(10,-400)(20,-500)(40,-580)(100,-650)(100,-800)(40,-740)(10,-600)(5,-450)(0,-100)} -- cycle;
\addplot[B=cqr] coordinates {(0,300)(5,-250)(10,-400)(20,-520)(40,-600)(100,-660)(100,-850)(40,-800)(20,-760)(10,-650)(5,-500)(0,-100)} -- cycle;
\addplot[B=hebo] coordinates {(0,300)(5,-250)(10,-400)(20,-500)(40,-580)(70,-590)(100,-650)(100,-860)(40,-780)(20,-740)(10,-620)(5,-500)(0,-100)} -- cycle;
\addplot[B=tpe] coordinates {(0,300)(5,-280)(10,-420)(20,-520)(40,-600)(100,-680)(100,-850)(40,-780)(20,-740)(10,-650)(5,-500)(0,-100)} -- cycle;
\addplot[S=cqr] coordinates {(0,150)(2,-200)(4,-350)(6,-500)(8,-550)(10,-560)(15,-650)(20,-680)(30,-730)(40,-740)(60,-750)(76,-760)(77,-790)(100,-795)};
\addplot[S=rs] coordinates {(0,200)(2,-200)(3,-250)(6,-420)(10,-470)(20,-560)(30,-600)(40,-640)(60,-680)(75,-700)(100,-740)};
\addplot[S=bore] coordinates {(0,200)(2,-200)(3,-250)(6,-420)(10,-480)(20,-560)(30,-610)(40,-650)(60,-690)(75,-720)(100,-750)};
\addplot[S=tpe] coordinates {(0,200)(2,-200)(3,-300)(6,-450)(10,-560)(20,-650)(30,-690)(40,-700)(60,-720)(77,-730)(78,-790)(100,-800)};
\addplot[S=rea] coordinates {(0,200)(2,-200)(3,-250)(6,-400)(9,-430)(15,-450)(20,-510)(30,-580)(40,-620)(60,-650)(100,-700)};
\addplot[S=hebo] coordinates {(0,200)(2,-200)(5,-400)(8,-480)(10,-550)(15,-620)(20,-640)(30,-670)(40,-700)(60,-720)(80,-780)(100,-820)};
\addplot[D=cqr] coordinates {(0,200)(2,-200)(5,-400)(10,-500)(20,-580)(30,-620)(40,-650)(60,-670)(77,-690)(100,-700)};
\addplot[D=rs] coordinates {(0,200)(2,-200)(4,-300)(6,-420)(10,-480)(20,-560)(30,-610)(40,-640)(60,-670)(80,-700)(100,-720)};
\addplot[D=bore] coordinates {(0,200)(2,-200)(4,-320)(6,-430)(10,-490)(20,-570)(30,-620)(40,-660)(60,-700)(80,-740)(100,-760)};
\addplot[D=tpe] coordinates {(0,200)(2,-200)(3,-300)(6,-450)(9,-450)(10,-630)(20,-640)(40,-680)(60,-700)(100,-760)};
\addplot[D=rea] coordinates {(0,200)(2,-200)(4,-300)(6,-420)(10,-480)(20,-560)(30,-610)(40,-640)(60,-670)(80,-700)(100,-720)};
\addplot[D=hebo] coordinates {(0,200)(2,-200)(3,-300)(6,-430)(9,-460)(10,-630)(20,-640)(30,-650)(40,-650)(60,-650)(72,-660)(73,-700)(100,-720)};
\end{axis}
%================ (k)
\begin{axis}[sub, at={(414.75pt,-366pt)}, width=155.25pt, height=83.25pt, ymin=-7.3, ymax=7.4,
 ytick={-6,-4,-2,0,2,4,6}]
\addplot[B=rea] coordinates {(0,5)(2,2)(4,-1)(6,-2)(8,-2.2)(9,-5)(15,-5)(30,-5.5)(100,-5.8)(100,-6.1)(10,-6.1)(8,-6.2)(5,-6.2)(3,-5.5)(0,-3)} -- cycle;
\addplot[B=bore] coordinates {(0,2)(5,-2)(8,-2.2)(9,-4.5)(12,-5)(55,-5.5)(57,-5.9)(100,-5.9)(100,-6.1)(57,-6.1)(56,-6.7)(20,-6.7)(10,-6.5)(5,-6.3)(0,-5)} -- cycle;
\addplot[B=tpe] coordinates {(0,2)(3,-1)(6,-2.5)(9,-4.5)(20,-5.2)(100,-5.9)(100,-6.1)(10,-6.1)(8,-6.6)(3,-6.6)(0,-5)} -- cycle;
\addplot[B=rs] coordinates {(0,4)(3,0)(6,-2)(9,-3)(12,-4.5)(20,-5)(100,-5.9)(100,-6.1)(10,-6.1)(5,-6)(0,-3)} -- cycle;
\addplot[B=hebo] coordinates {(0,3)(3,-1)(6,-3)(9,-5)(100,-5.9)(100,-6.1)(5,-6.1)(0,-4)} -- cycle;
\addplot[B=cqr] coordinates {(0,3)(3,-1)(6,-3)(10,-4)(20,-5)(100,-5.1)(100,-5.3)(20,-5.6)(10,-6)(5,-6)(0,-4)} -- cycle;
\addplot[S=cqr] coordinates {(0,0)(2,-2)(4,-3.5)(6,-4.3)(8,-4.6)(10,-5)(15,-5.1)(20,-5.2)(100,-5.2)};
\addplot[S=rs] coordinates {(0,2)(2,-1)(4,-3)(6,-3.7)(8,-3.9)(10,-4.5)(12,-5)(15,-5.3)(20,-5.5)(30,-5.7)(40,-5.85)(60,-5.95)(100,-6)};
\addplot[S=bore] coordinates {(0,0)(2,-2.5)(4,-3.5)(6,-4.2)(8,-4.5)(10,-5.4)(20,-5.65)(40,-5.8)(60,-5.9)(85,-5.95)(100,-5.95)};
\addplot[S=tpe] coordinates {(0,-1)(2,-3)(4,-4)(6,-4.5)(8,-4.8)(10,-5.2)(15,-5.4)(20,-5.5)(30,-5.7)(40,-5.8)(60,-5.9)(100,-6)};
\addplot[S=rea] coordinates {(0,0)(2,-2)(4,-3.5)(6,-4.3)(8,-4.8)(10,-5.2)(15,-5.5)(20,-5.6)(30,-5.75)(50,-5.9)(100,-6.0)};
\addplot[S=hebo] coordinates {(0,-0.5)(2,-2.5)(4,-3.8)(6,-4.5)(8,-5)(9,-5.7)(10,-5.9)(15,-6)(100,-6.02)};
\addplot[D=cqr] coordinates {(0,-1)(2,-2.5)(4,-3.5)(6,-4.2)(8,-5)(9,-5.8)(12,-5.95)(100,-6.02)};
\addplot[D=rs] coordinates {(0,1)(2,-2)(4,-3.3)(6,-4)(8,-4.3)(9,-6)(100,-6.02)};
\addplot[D=bore] coordinates {(0,0)(2,-2.5)(5,-4)(8,-4.5)(9,-6)(100,-6.02)};
\addplot[D=tpe] coordinates {(0,-1)(2,-3)(4,-4)(6,-4.6)(8,-5.2)(9,-6)(100,-6.02)};
\addplot[D=rea] coordinates {(0,0)(2,-2.5)(4,-3.6)(6,-4.4)(8,-5)(9,-6)(100,-6.02)};
\addplot[D=hebo] coordinates {(0,-1)(2,-3)(4,-4)(6,-4.6)(8,-5.2)(9,-6)(100,-6.02)};
\end{axis}
%================ (l)
\begin{axis}[sub, ymode=log, yminorticks=false, at={(611.25pt,-366pt)}, width=153.75pt, height=83.25pt, ymin=1.55, ymax=320000,
 ytick={10,100,1000,10000,100000}]
\addplot[B=cqr] coordinates {(0,300000)(5,5000)(10,1000)(15,500)(30,400)(50,350)(60,250)(80,200)(100,200)(100,0.1)(0,0.1)} -- cycle;
\addplot[B=bore] coordinates {(0,100000)(5,3000)(10,600)(20,200)(40,150)(60,100)(100,100)(100,0.1)(90,0.1)(89,6)(19,6)(18,0.1)(0,0.1)} -- cycle;
\addplot[B=rea] coordinates {(0,300000)(2,30000)(5,2000)(10,800)(20,200)(50,100)(100,70)(100,5)(12,5)(11,0.1)(0,0.1)} -- cycle;
\addplot[B=hebo] coordinates {(0,300000)(5,20000)(10,5000)(15,1000)(20,300)(40,100)(100,50)(100,1)(11,1)(10,0.1)(0,0.1)} -- cycle;
\addplot[B=rs] coordinates {(0,200000)(5,5000)(10,800)(20,200)(50,80)(100,60)(100,8)(12,8)(10,20)(5,50)(0,1000)} -- cycle;
\addplot[B=tpe] coordinates {(0,200000)(5,4000)(10,700)(20,180)(50,70)(100,50)(100,7)(12,7)(10,20)(5,50)(0,1000)} -- cycle;
\addplot[S=cqr] coordinates {(0,100000)(1,20000)(3,3000)(6,600)(10,200)(20,100)(30,60)(50,40)(60,30)(100,25)};
\addplot[S=rs] coordinates {(0,100000)(1,20000)(3,5000)(6,1000)(10,300)(20,120)(30,70)(45,50)(50,30)(60,28)(100,25)};
\addplot[S=bore] coordinates {(0,100000)(1,20000)(3,3000)(6,800)(10,300)(20,120)(30,70)(40,60)(60,55)(75,50)(80,40)(100,40)};
\addplot[S=tpe] coordinates {(0,100000)(1,20000)(3,3000)(6,700)(10,250)(20,100)(30,50)(50,35)(70,28)(100,24)};
\addplot[S=rea] coordinates {(0,100000)(1,20000)(3,2000)(6,600)(10,250)(20,90)(30,50)(60,30)(100,22)};
\addplot[S=hebo] coordinates {(0,100000)(1,20000)(2,7000)(4,5000)(6,4000)(8,2500)(9,1000)(10,300)(12,200)(15,150)(17,100)(18,40)(20,35)(25,30)(30,20)(40,12)(45,10)(50,7)(52,5)(55,4.5)(60,3)(100,3)};
\addplot[D=cqr] coordinates {(0,100000)(1,20000)(3,3000)(6,800)(10,500)(15,350)(20,250)(30,200)(50,180)(60,80)(80,65)(100,60)};
\addplot[D=rs] coordinates {(0,100000)(1,20000)(5,2000)(10,400)(20,150)(30,80)(50,40)(100,28)};
\addplot[D=bore] coordinates {(0,100000)(1,20000)(5,1000)(10,300)(20,100)(30,60)(50,50)(80,45)(90,30)(100,30)};
\addplot[D=tpe] coordinates {(0,100000)(1,20000)(3,3000)(6,800)(10,400)(11,12)(100,10.5)};
\addplot[D=rea] coordinates {(0,100000)(1,20000)(3,3000)(6,900)(10,300)(11,11)(100,9)};
\addplot[D=hebo] coordinates {(0,100000)(2,8000)(5,1500)(8,500)(10,250)(11,13)(40,12)(41,10)(100,10)};
\end{axis}
%================ captions
\node at (99pt,-129pt) {\subcap{(a)}{HPO-B 7607 146066}};
\node at (294pt,-129pt) {\subcap{(b)}{HPO-B 5971 145878}};
\node at (489pt,-129pt) {\subcap{(c)}{HPO-B 5636 145854}};
\node at (684pt,-129pt) {\subcap{(d)}{TabRepo CatBoost MNIST}};
\node at (99pt,-270pt) {\subcap{(e)}{TabRepo CatBoost Adult}};
\node at (294pt,-270pt) {\subcap{(f)}{TabRepo CatBoost Covertype}};
\node at (489pt,-270pt) {\subcap{(g)}{TabRepo CatBoost Higgs}};
\node at (684pt,-270pt) {\subcap{(h)}{TabRepo CatBoost F-MNIST}};
\node at (99pt,-406.5pt) {\subcap{(i)}{Branin}};
\node at (294pt,-406.5pt) {\subcap{(j)}{Eggholder}};
\node at (489pt,-406.5pt) {\subcap{(k)}{Forrester}};
\node at (684pt,-406.5pt) {\subcap{(l)}{Goldstein-Price}};
\end{tikzpicture}
\end{document}
